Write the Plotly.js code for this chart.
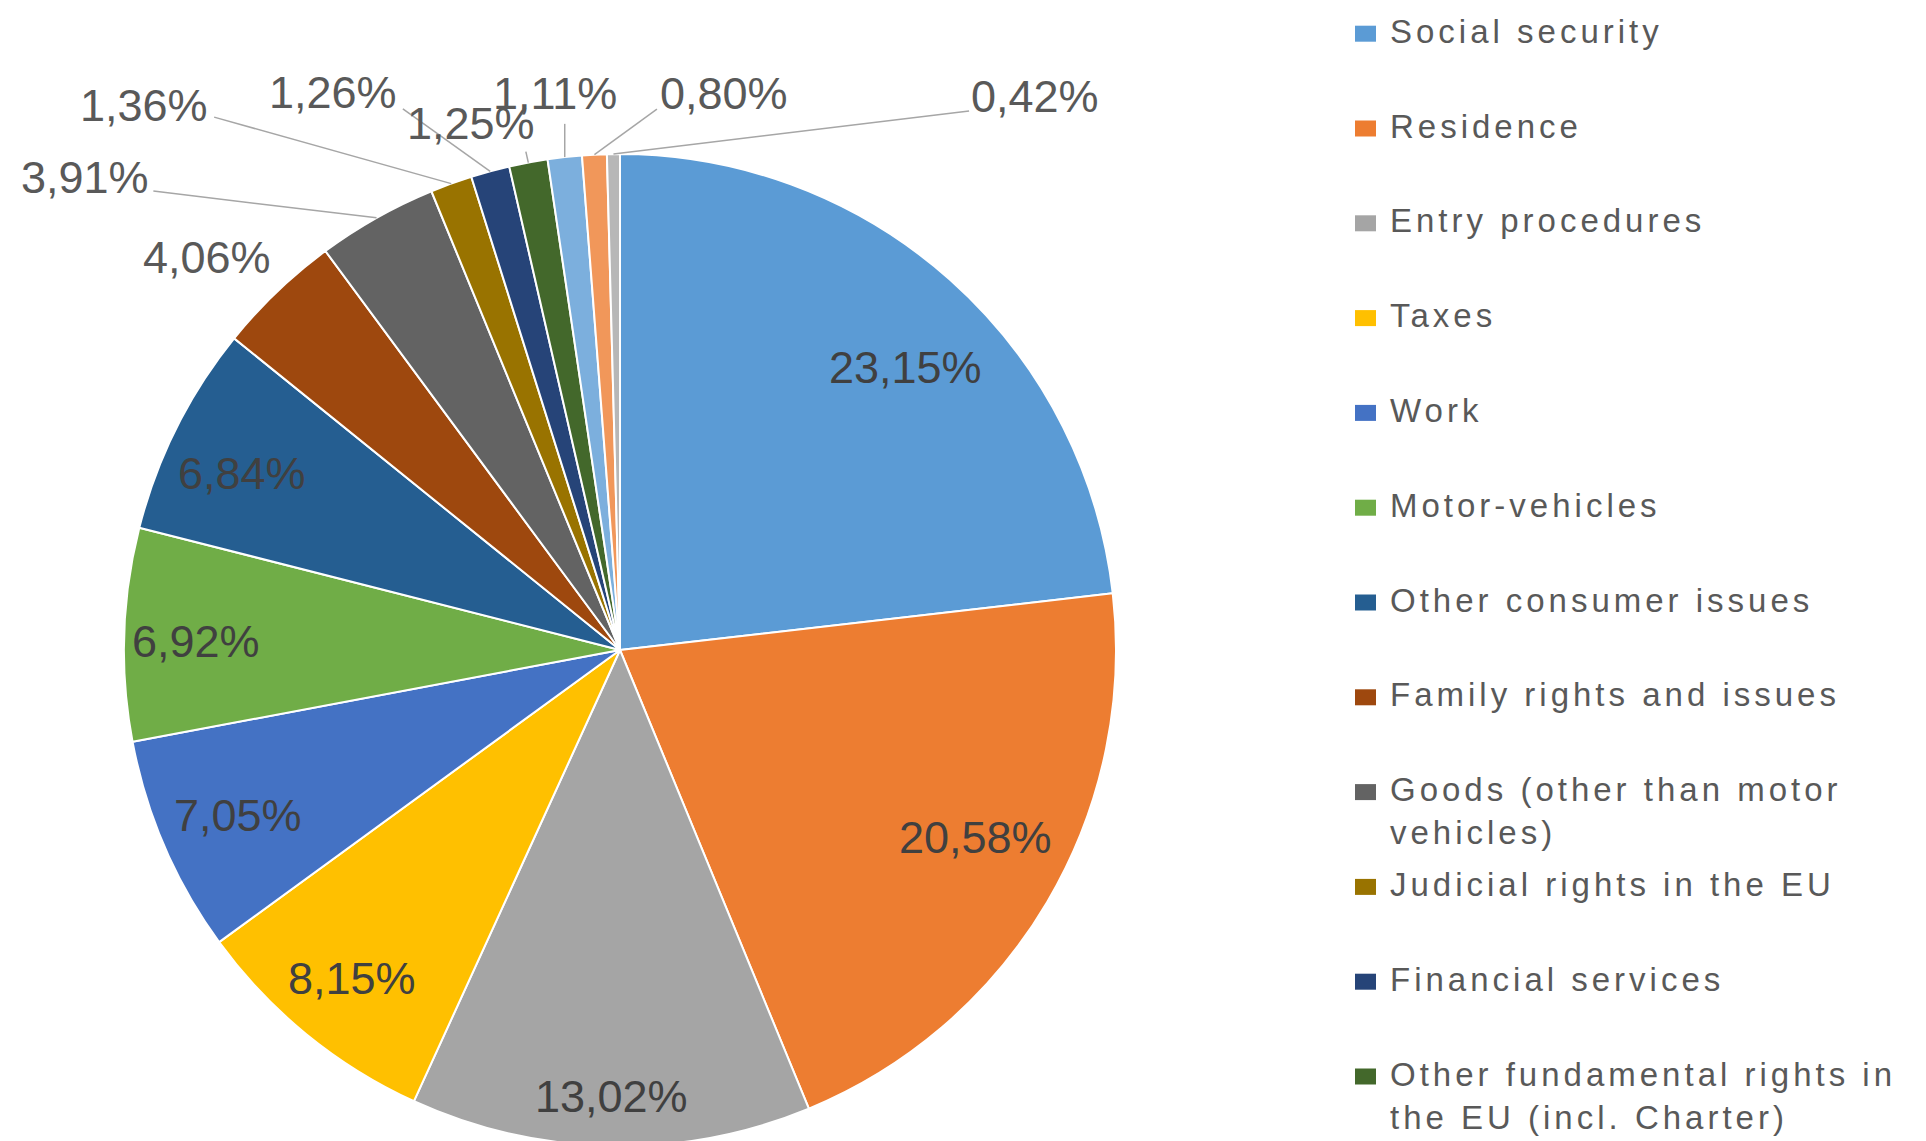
<!DOCTYPE html>
<html>
<head>
<meta charset="utf-8">
<script src="https://cdn.plot.ly/plotly-3.0.1.min.js"></script>
<style>
  html, body { margin: 0; padding: 0; overflow: hidden; background: #ffffff; }
  #chart { width: 1926px; height: 1160px; }
</style>
</head>
<body>
<div id="chart"></div>
<script>
// ---- data ----
const categories = [
  "Social security",
  "Residence",
  "Entry procedures",
  "Taxes",
  "Work",
  "Motor-vehicles",
  "Other consumer issues",
  "Family rights and issues",
  "Goods (other than motor vehicles)",
  "Judicial rights in the EU",
  "Financial services",
  "Other fundamental rights in the EU (incl. Charter)",
  "Other topic A",
  "Other topic B",
  "Other topic C"
];
const shares = [23.15, 20.58, 13.02, 8.15, 7.05, 6.92, 6.84, 4.06, 3.91, 1.36, 1.26, 1.25, 1.11, 0.80, 0.42];
const sliceColors = [
  "#5B9BD5", "#ED7D31", "#A5A5A5", "#FFC000", "#4472C4", "#70AD47",
  "#255E91", "#9E480E", "#636363", "#997300", "#264478", "#43682B",
  "#7CAFDD", "#F1975A", "#B7B7B7"
];
// legend entries visible in the (cropped) reference, with its line breaks
const legendLabels = [
  "Social security",
  "Residence",
  "Entry procedures",
  "Taxes",
  "Work",
  "Motor-vehicles",
  "Other consumer issues",
  "Family rights and issues",
  "Goods (other than motor<br>vehicles)",
  "Judicial rights in the EU",
  "Financial services",
  "Other fundamental rights in<br>the EU (incl. Charter)"
];

// ---- label placement styles (Excel "best fit" look), in units of the pie radius ----
// inside labels: distance from centre and small angular shift (deg) from the slice's middle angle
const insideLabelStyle = [
  { r: 0.81, da: 3.5 },
  { r: 0.81, da: -2.7 },
  { r: 0.90, da: 0 },
  { r: 0.855, da: 0 },
  { r: 0.84, da: 0 },
  { r: 0.855, da: -0.7 },
  { r: 0.84, da: -1.6 }
];
// outside labels: offset of label centre (dx, dy) and leader end (lx, ly) from the slice's outer edge point
const outsideLabelStyle = [
  { dx: -0.141, dy: 0.069, leader: false },
  { dx: -0.587, dy: 0.082, lx: -0.450, ly: 0.054, leader: true },
  { dx: -0.619, dy: 0.158, lx: -0.478, ly: 0.134, leader: true },
  { dx: -0.317, dy: 0.158, lx: -0.176, ly: 0.126, leader: true },
  { dx: -0.116, dy: 0.079, lx: -0.005, ly: 0.022, leader: true },
  { dx: -0.020, dy: 0.129, lx: 0.000, ly: 0.067, leader: true },
  { dx: 0.262, dy: 0.124, lx: 0.126, ly: 0.092, leader: true },
  { dx: 0.849, dy: 0.116, lx: 0.717, ly: 0.087, leader: true }
];

// ---- geometry helpers ----
const W = 1926, H = 1160;
const py = p => 1 - p / H;
const px = p => p / W;
const cx = 620, cy = 650, R = 496;
const domX = [px(cx - R), px(cx + R)];
const domY = [py(cy + R), py(cy - R)];

const total = shares.reduce((a, b) => a + b, 0);
let cum = 0;
const midAngles = shares.map(v => { const m = (cum + v / 2) / total * 2 * Math.PI; cum += v; return m; });
const labelText = shares.map(v => v.toFixed(2).replace(".", ",") + "%");

const pie = {
  type: "pie",
  labels: categories,
  values: shares,
  sort: false,
  direction: "clockwise",
  rotation: 0,
  marker: { colors: sliceColors, line: { color: "#ffffff", width: 2 } },
  textinfo: "none",
  domain: { x: domX, y: domY },
  showlegend: false,
  hoverinfo: "label+percent"
};
// invisible trace so the helper axes used for label placement exist
const helper = { type: "scatter", x: [], y: [], xaxis: "x", yaxis: "y", showlegend: false, hoverinfo: "skip" };

const shapes = [];
const annotations = [];
const labelFont = { family: "Liberation Sans, Arial, sans-serif", size: 45 };

shares.forEach((v, i) => {
  const a = midAngles[i];
  const ex = Math.sin(a), ey = Math.cos(a);
  if (i < insideLabelStyle.length) {
    const s = insideLabelStyle[i];
    const b = a + s.da * Math.PI / 180;
    annotations.push({
      xref: "x", yref: "y", x: Math.sin(b) * s.r, y: Math.cos(b) * s.r,
      xanchor: "center", yanchor: "middle", showarrow: false,
      text: labelText[i], font: Object.assign({ color: "#404040" }, labelFont)
    });
  } else {
    const s = outsideLabelStyle[i - insideLabelStyle.length];
    annotations.push({
      xref: "x", yref: "y", x: ex + s.dx, y: ey + s.dy,
      xanchor: "center", yanchor: "middle", showarrow: false,
      text: labelText[i], font: Object.assign({ color: "#595959" }, labelFont)
    });
    if (s.leader) {
      shapes.push({
        type: "line", xref: "x", yref: "y", layer: "above",
        x0: ex, y0: ey, x1: ex + s.lx, y1: ey + s.ly,
        line: { color: "#A6A6A6", width: 1.5 }
      });
    }
  }
});

const step = 94.8, first = 33.7;
legendLabels.forEach((lab, i) => {
  const yc = first + i * step;
  shapes.push({
    type: "rect", xref: "paper", yref: "paper",
    x0: px(1355), x1: px(1376), y0: py(yc + 8), y1: py(yc - 8),
    fillcolor: sliceColors[i], line: { width: 0 }
  });
  annotations.push({
    xref: "paper", yref: "paper",
    x: px(1388), y: py(yc - 23),
    xanchor: "left", yanchor: "top", align: "left",
    text: lab, showarrow: false,
    font: { family: "Liberation Sans, Arial, sans-serif", size: 33, color: "#595959" }
  });
});

// helper axes span the whole figure, 1 unit = pie radius, origin at the pie centre
const layout = {
  width: W, height: H,
  margin: { l: 0, r: 0, t: 0, b: 0 },
  paper_bgcolor: "#ffffff",
  plot_bgcolor: "rgba(0,0,0,0)",
  showlegend: false,
  xaxis: { domain: [0, 1], range: [-cx / R, (W - cx) / R], visible: false, fixedrange: true },
  yaxis: { domain: [0, 1], range: [(cy - H) / R, cy / R], visible: false, fixedrange: true },
  shapes: shapes,
  annotations: annotations
};

Plotly.newPlot("chart", [pie, helper], layout, { displayModeBar: false, staticPlot: true }).then(() => {
  // widen legend text spacing like the reference
  document.querySelectorAll("g.annotation").forEach(g => {
    const t = g.querySelector("text.annotation-text");
    if (t && t.textContent && !/%$/.test(t.textContent)) t.style.letterSpacing = "4px";
  });
});
</script>
</body>
</html>
